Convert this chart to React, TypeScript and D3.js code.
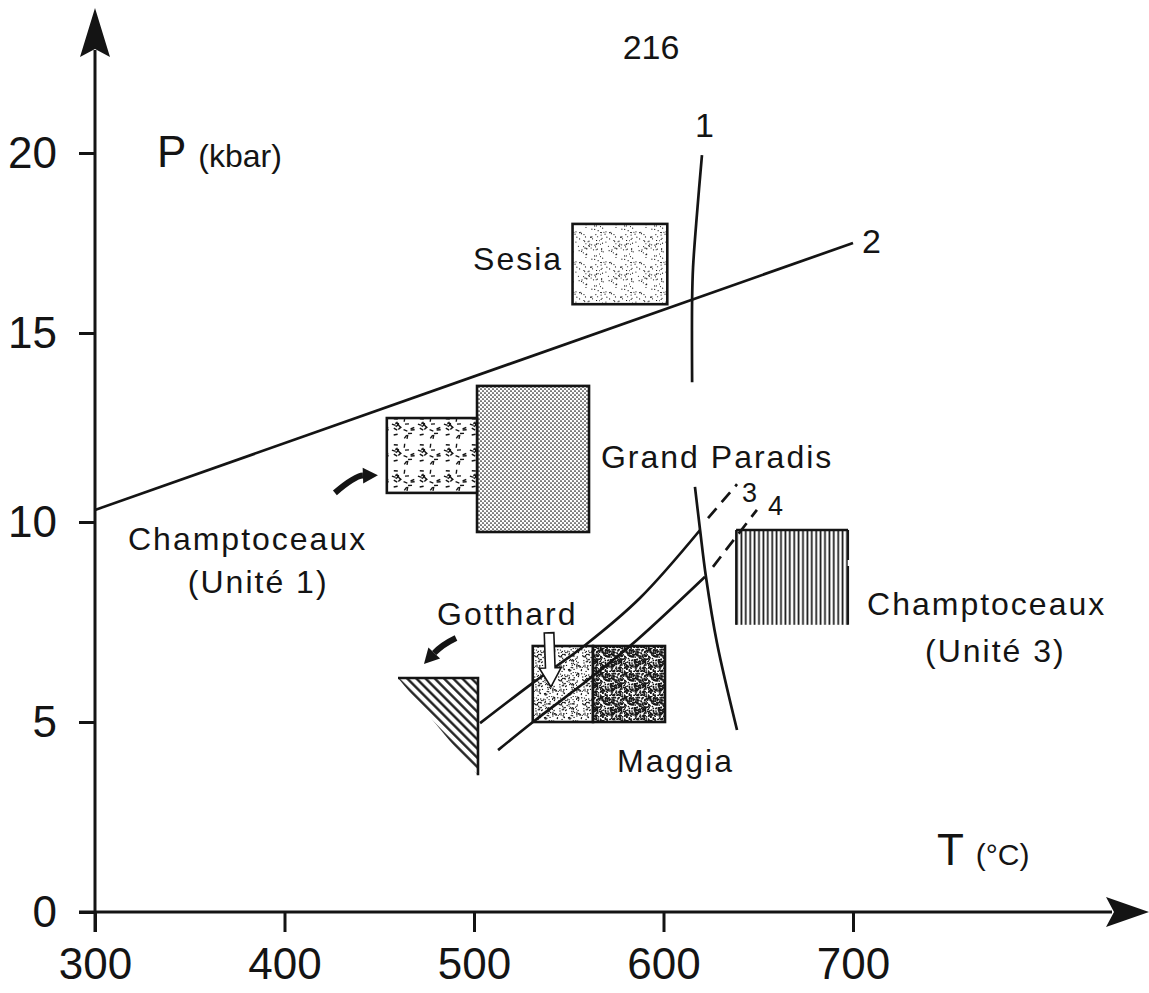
import { useEffect, useRef } from 'react'
import * as d3 from 'd3'

type Pt = [number, number]

// axis ticks
const tempTicks = [300, 400, 500, 600, 700]
const pressTicks = [0, 5, 10, 15, 20]

// reaction curves, [T °C, P kbar]
const curve1Upper: Pt[] = [[620.3, 19.94], [617.7, 18.33], [615.6, 16.83], [615.1, 15.92], [615.1, 13.7]]
const curve1Lower: Pt[] = [[616.6, 10.93], [619.3, 9.8], [622.4, 8.63], [628.2, 6.98], [638.8, 4.79]]
const curve2: Pt[] = [[300, 10.32], [700, 17.5]]
const curve3: Pt[] = [[503.2, 4.97], [531.1, 5.98], [558.6, 6.92], [587.6, 8.1], [619.3, 9.8]]
const curve3Dash: Pt[] = [[623.5, 10.1], [638.8, 11.0]]
const curve4: Pt[] = [[512.7, 4.26], [531.1, 5.0], [562.8, 6.15], [586.0, 7.05], [621.9, 8.63]]
const curve4Dash: Pt[] = [[626.1, 8.88], [649.3, 10.32]]

const curveNumbers = ['1', '2', '3', '4']
const curveNumberT = [616.6, 704.7, 641.4, 655.1]
const curveNumberP = [20.44, 17.22, 10.53, 10.19]

// P-T fields of the units
const boxIds = ['sesia', 'paradis', 'champ1', 'gotthard', 'maggia', 'champ3']
const boxTmin = [552, 501.6, 454, 531, 562.8, 638.3]
const boxTmax = [602, 560.7, 501.6, 562.8, 600.8, 697.4]
const boxPmin = [15.8, 9.75, 10.77, 5.0, 5.0, 7.43]
const boxPmax = [18.03, 13.6, 12.75, 6.9, 6.9, 9.8]

// hatched triangle (Gotthard, low T side)
const triangleT = [459.9, 502.1, 502.1]
const triangleP = [6.1, 6.1, 3.6]

const regionNames = ['Sesia', 'Grand Paradis', 'Champtoceaux', '(Unité 1)', 'Gotthard', 'Maggia', 'Champtoceaux', '(Unité 3)']
const regionLabelT = [499.5, 567, 317.4, 349, 480.5, 575.5, 707.4, 738]
const regionLabelP = [16.75, 11.43, 9.3, 8.23, 7.43, 3.68, 7.68, 6.5]

// annotation arrows: tail, bend, tip
const champArrow: Pt[] = [[426.6, 10.77], [437.2, 11.22], [449.3, 11.24]]
const gotthardArrow: Pt[] = [[490.5, 7.1], [483.1, 6.93], [473.6, 6.45]]
const hollowArrow: Pt[] = [[539.6, 7.23], [540.6, 5.88]]

export default function App() {
  const svgRef = useRef<SVGSVGElement>(null)

  useEffect(() => {
    if (!svgRef.current) return
    const svg = d3.select(svgRef.current)
    svg.selectAll('*').remove()

    const ink = '#141414'
    const font = "'Liberation Sans', Arial, sans-serif"

    const x = d3.scaleLinear().domain([300, 700]).range([95, 853])
    // hand drawn axis, ticks not evenly spaced
    const y = d3.scaleLinear().domain(pressTicks).range([912, 722, 522, 333, 153])
    const px = (d: Pt): Pt => [x(d[0]), y(d[1])]

    const hash = (n: number) => {
      const s = Math.sin(n * 127.1 + 311.7) * 43758.5453
      return s - Math.floor(s)
    }

    // fill patterns
    const defs = svg.append('defs')
    const stipple = (id: string, size: number, count: number, r: number, seed: number) => {
      const p = defs.append('pattern').attr('id', id)
        .attr('patternUnits', 'userSpaceOnUse').attr('width', size).attr('height', size)
      p.append('rect').attr('width', size).attr('height', size).attr('fill', '#fff')
      for (let i = 0; i < count; i++) {
        p.append('circle')
          .attr('cx', hash(seed + i * 2) * size)
          .attr('cy', hash(seed + i * 2 + 1) * size)
          .attr('r', r).attr('fill', ink)
      }
    }
    stipple('sesia', 30, 70, 0.6, 11)
    stipple('gotthard', 24, 100, 0.7, 57)
    stipple('maggia', 24, 260, 0.85, 91)

    const gp = defs.append('pattern').attr('id', 'paradis')
      .attr('patternUnits', 'userSpaceOnUse').attr('width', 4).attr('height', 4)
    gp.append('rect').attr('width', 4).attr('height', 4).attr('fill', '#fff')
    gp.append('circle').attr('cx', 1).attr('cy', 1).attr('r', 0.85).attr('fill', ink)
    gp.append('circle').attr('cx', 3).attr('cy', 3).attr('r', 0.85).attr('fill', ink)

    const c1 = defs.append('pattern').attr('id', 'champ1')
      .attr('patternUnits', 'userSpaceOnUse').attr('width', 26).attr('height', 26)
    c1.append('rect').attr('width', 26).attr('height', 26).attr('fill', '#fff')
    for (let i = 0; i < 17; i++) {
      const cx = 2.5 + hash(300 + i * 3) * 21
      const cy = 2.5 + hash(301 + i * 3) * 21
      const a = hash(302 + i * 3) * Math.PI
      c1.append('line')
        .attr('x1', cx - 2 * Math.cos(a)).attr('y1', cy - 2 * Math.sin(a))
        .attr('x2', cx + 2 * Math.cos(a)).attr('y2', cy + 2 * Math.sin(a))
        .attr('stroke', ink).attr('stroke-width', 1.4)
    }

    const c3 = defs.append('pattern').attr('id', 'champ3')
      .attr('patternUnits', 'userSpaceOnUse').attr('width', 4.4).attr('height', 10)
    c3.append('rect').attr('width', 4.4).attr('height', 10).attr('fill', '#fff')
    c3.append('line').attr('x1', 2.2).attr('x2', 2.2).attr('y1', 0).attr('y2', 10)
      .attr('stroke', ink).attr('stroke-width', 1.7)

    const hatch = defs.append('pattern').attr('id', 'hatch')
      .attr('patternUnits', 'userSpaceOnUse').attr('width', 6.5).attr('height', 10)
      .attr('patternTransform', 'rotate(-45)')
    hatch.append('rect').attr('width', 6.5).attr('height', 10).attr('fill', '#fff')
    hatch.append('line').attr('x1', 3.2).attr('x2', 3.2).attr('y1', 0).attr('y2', 10)
      .attr('stroke', ink).attr('stroke-width', 2.3)

    // boxes
    boxIds.forEach((id, i) => {
      const x0 = x(boxTmin[i]), x1 = x(boxTmax[i])
      const y0 = y(boxPmax[i]), y1 = y(boxPmin[i])
      svg.append('rect')
        .attr('x', x0).attr('y', y0).attr('width', x1 - x0).attr('height', y1 - y0)
        .attr('fill', `url(#${id})`)
        .attr('stroke', id === 'champ3' ? 'none' : ink)
        .attr('stroke-width', 2.6)
      if (id === 'champ3') {
        svg.append('line').attr('x1', x0).attr('x2', x1).attr('y1', y0).attr('y2', y0)
          .attr('stroke', ink).attr('stroke-width', 2.6)
        svg.append('line').attr('x1', x0).attr('x2', x0).attr('y1', y0).attr('y2', y1)
          .attr('stroke', ink).attr('stroke-width', 2)
        svg.append('line').attr('x1', x1).attr('x2', x1).attr('y1', y0).attr('y2', y1)
          .attr('stroke', ink).attr('stroke-width', 2).attr('stroke-dasharray', '30,6,60,4')
      }
    })

    // hatched triangle
    const tri: Pt[] = triangleT.map((t, i) => [x(t), y(triangleP[i])])
    svg.append('polygon').attr('points', tri.map(p => p.join(',')).join(' ')).attr('fill', 'url(#hatch)')
    svg.append('polyline').attr('points', tri.map(p => p.join(',')).join(' '))
      .attr('fill', 'none').attr('stroke', ink).attr('stroke-width', 2.6)

    // curves
    const line = d3.line<Pt>().x(d => x(d[0])).y(d => y(d[1])).curve(d3.curveCatmullRom.alpha(0.5))
    ;[curve1Upper, curve1Lower, curve2, curve3, curve4].forEach(c => {
      svg.append('path').attr('d', line(c)).attr('fill', 'none')
        .attr('stroke', ink).attr('stroke-width', 2.7)
    })
    ;[curve3Dash, curve4Dash].forEach(c => {
      svg.append('path').attr('d', line(c)).attr('fill', 'none')
        .attr('stroke', ink).attr('stroke-width', 2.7).attr('stroke-dasharray', '13,8')
    })

    // filled curved arrows
    const curvedArrow = (pts: Pt[]) => {
      const [a, b, c] = pts.map(px)
      const dx = c[0] - b[0], dy = c[1] - b[1]
      const len = Math.hypot(dx, dy)
      const ux = dx / len, uy = dy / len
      const hl = 15, hw = 8
      const base: Pt = [c[0] - ux * hl, c[1] - uy * hl]
      svg.append('path')
        .attr('d', `M${a[0]},${a[1]} Q${b[0]},${b[1]} ${base[0]},${base[1]}`)
        .attr('fill', 'none').attr('stroke', ink).attr('stroke-width', 6)
      svg.append('polygon')
        .attr('points', [c, [base[0] - uy * hw, base[1] + ux * hw], [base[0] + uy * hw, base[1] - ux * hw]]
          .map(p => p.join(',')).join(' '))
        .attr('fill', ink)
    }
    curvedArrow(champArrow)
    curvedArrow(gotthardArrow)

    // hollow arrow into Gotthard field
    {
      const [top, tip] = hollowArrow.map(px)
      const dx = tip[0] - top[0], dy = tip[1] - top[1]
      const len = Math.hypot(dx, dy)
      const ux = dx / len, uy = dy / len
      const nx = -uy, ny = ux
      const hl = 19, sw = 4.8, hw = 11
      const bx = tip[0] - ux * hl, by = tip[1] - uy * hl
      const pts: Pt[] = [
        [top[0] + nx * sw, top[1] + ny * sw],
        [bx + nx * sw, by + ny * sw],
        [bx + nx * hw, by + ny * hw],
        tip,
        [bx - nx * hw, by - ny * hw],
        [bx - nx * sw, by - ny * sw],
        [top[0] - nx * sw, top[1] - ny * sw],
      ]
      svg.append('polygon').attr('points', pts.map(p => p.join(',')).join(' '))
        .attr('fill', '#fff').attr('stroke', ink).attr('stroke-width', 1.6)
    }

    // axes
    const x0 = x(300), y0 = y(0)
    svg.append('line').attr('x1', x0).attr('x2', x0).attr('y1', y0 + 20).attr('y2', 50)
      .attr('stroke', ink).attr('stroke-width', 3)
    svg.append('line').attr('x1', x0 - 16).attr('x2', 1112).attr('y1', y0).attr('y2', y0)
      .attr('stroke', ink).attr('stroke-width', 3)
    svg.append('polygon')
      .attr('points', [[x0, 8], [x0 + 15, 57], [x0, 49], [x0 - 15, 57]].map(p => p.join(',')).join(' '))
      .attr('fill', ink)
    svg.append('polygon')
      .attr('points', [[1149, y0], [1106, y0 - 15], [1114, y0], [1106, y0 + 15]].map(p => p.join(',')).join(' '))
      .attr('fill', ink)

    const xAxis = svg.append('g').attr('transform', `translate(0,${y0})`)
      .call(d3.axisBottom(x).tickValues(tempTicks).tickSize(20).tickSizeOuter(0).tickPadding(16).tickFormat(d3.format('d')))
    xAxis.select('.domain').remove()
    xAxis.selectAll('line').attr('stroke', ink).attr('stroke-width', 3)
    xAxis.selectAll('text').attr('font-size', 44).attr('font-family', font).attr('fill', ink)

    const yAxis = svg.append('g').attr('transform', `translate(${x0},0)`)
      .call(d3.axisLeft(y).tickValues(pressTicks).tickSize(16).tickSizeOuter(0).tickPadding(22).tickFormat(d3.format('d')))
    yAxis.select('.domain').remove()
    yAxis.selectAll('line').attr('stroke', ink).attr('stroke-width', 3)
    yAxis.selectAll('text').attr('font-size', 44).attr('font-family', font).attr('fill', ink)

    // axis titles
    const pt = svg.append('text').attr('x', x(332.7)).attr('y', y(19.61))
      .attr('font-family', font).attr('fill', ink)
    pt.append('tspan').attr('font-size', 44).text('P')
    pt.append('tspan').attr('dx', 12).attr('font-size', 32).text('(kbar)')

    const tt = svg.append('text').attr('x', x(744.3)).attr('y', y(1.24))
      .attr('font-family', font).attr('fill', ink)
    tt.append('tspan').attr('font-size', 44).text('T')
    tt.append('tspan').attr('dx', 12).attr('font-size', 30).text('(°C)')

    // page number
    svg.append('text').attr('x', x(593.4)).attr('y', y(22.6))
      .attr('text-anchor', 'middle').attr('font-family', font).attr('font-size', 34).attr('fill', ink)
      .text('216')

    // curve numbers
    curveNumbers.forEach((n, i) => {
      svg.append('text').attr('x', x(curveNumberT[i])).attr('y', y(curveNumberP[i]))
        .attr('font-family', font).attr('font-size', i < 2 ? 34 : 27).attr('fill', ink)
        .text(n)
    })

    // region names
    regionNames.forEach((n, i) => {
      svg.append('text').attr('x', x(regionLabelT[i])).attr('y', y(regionLabelP[i]))
        .attr('font-family', font).attr('font-size', 32).attr('letter-spacing', 2).attr('fill', ink)
        .text(n)
    })
  }, [])

  return (
    <svg
      ref={svgRef}
      width={1149}
      height={993}
      style={{ position: 'absolute', left: 0, top: 0, background: '#fff' }}
    />
  )
}
